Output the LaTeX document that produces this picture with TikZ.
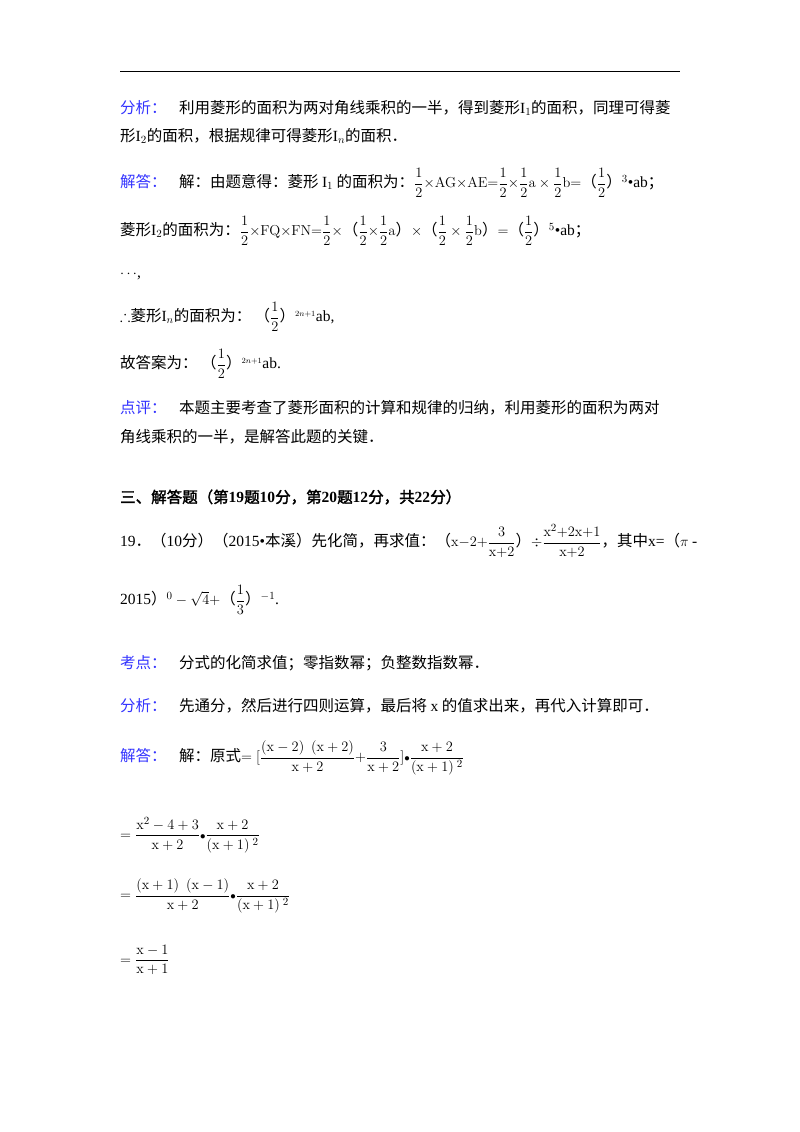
\documentclass[tikz,border=0pt]{standalone}
\usepackage{amssymb}
\usepackage[no-math]{fontspec}
\setmainfont{Noto Sans CJK SC}[AutoFakeBold=2]
\newfontfamily\lat{Liberation Serif}
\definecolor{lab}{RGB}{51,51,255}
\newcommand\bl[1]{\textcolor{lab}{#1}}
\newcommand\lt[1]{{\lat #1}}
\newcommand\hf{\displaystyle\frac{1}{2}}
\newcommand\xx{\mathrm{x}}
\newcommand\df[2]{\displaystyle\frac{#1}{#2}}
\newcommand\bu{{\scriptstyle\bullet}}
\begin{document}
\begin{tikzpicture}[x=1pt,y=-1pt,every node/.style={anchor=west,inner sep=0pt,font=\fontsize{15.5}{18}\selectfont}]
\useasboundingbox[fill=white] (0,0) rectangle (800,1132);
\draw[line width=1pt] (120,72) coordinate (r1) -- (680,72) coordinate (r2);
\node (l1) at (120,108) {\bl{分析：}\hspace{0.8em}利用菱形的面积为两对角线乘积的一半，得到菱形\lt{I}$_1$的面积，同理可得菱};
\node (l2) at (120,136) {形\lt{I}$_2$的面积，根据规律可得菱形\lt{I}$_n$的面积．};
\node (l3) at (120,183) {\bl{解答：}\hspace{0.8em}解：由题意得：菱形 \lt{I}$_1$ 的面积为：$\hf{\times}\mathrm{AG}{\times}\mathrm{AE}{=}\hf{\times}\hf \mathrm{a}\times\hf \mathrm{b}{=}$（$\hf$）$^3$\lt{•ab}；};
\node (l4) at (120,231) {菱形\lt{I}$_2$的面积为：$\hf{\times}\mathrm{FQ}{\times}\mathrm{FN}{=}\hf{\times}$（$\hf{\times}\hf \mathrm{a}$）$\times$（$\hf\times\hf \mathrm{b}$）$=$（$\hf$）$^5$\lt{•ab}；};
\node (l5) at (120,275) {$\cdots$\lt{,}};
\node (l6) at (120,317) {$\therefore$菱形\lt{I}$_n$的面积为：\ （$\hf$）$^{\scriptscriptstyle 2n+1}$\lt{ab,}};
\node (l7) at (120,364) {故答案为：\ （$\hf$）$^{\scriptscriptstyle 2n+1}$\lt{ab.}};
\node (l8) at (120,408) {\bl{点评：}\hspace{0.8em}本题主要考查了菱形面积的计算和规律的归纳，利用菱形的面积为两对};
\node (l9) at (120,437) {角线乘积的一半，是解答此题的关键．};
\node (l10) at (120,497) {\textbf{三、解答题（第\lt{19}题\lt{10}分，第\lt{20}题\lt{12}分，共\lt{22}分）}};
\node (l11) at (120,541) {\lt{19}．（\lt{10}分）（\lt{2015•}本溪）先化简，再求值：（$\xx{-}2{+}\df{3}{\xx{+}2}$）$\div\df{\xx^2{+}2\xx{+}1}{\xx{+}2}$，其中\lt{x=}（$\pi$ \lt{-}};
\node (l12) at (120,600) {\lt{2015}）$^0-\sqrt{4}+$（$\displaystyle\frac13$）$^{-1}$\lt{.}};
\node (l13) at (120,663) {\bl{考点：}\hspace{0.8em}分式的化简求值；零指数幂；负整数指数幂．};
\node (l14) at (120,706) {\bl{分析：}\hspace{0.8em}先通分，然后进行四则运算，最后将 \lt{x} 的值求出来，再代入计算即可．};
\node (l15) at (120,758) {\bl{解答：}\hspace{0.8em}解：原式$=\Bigl[\df{(\xx-2)\ \ (\xx+2)}{\xx+2}{+}\df{3}{\xx+2}\Bigr]{\bu}\df{\xx+2}{(\xx+1)^{\;2}}$};
\node (l16) at (120,835) {$=\df{\xx^2-4+3}{\xx+2}{\bu}\df{\xx+2}{(\xx+1)^{\;2}}$};
\node (l17) at (120,896) {$=\df{(\xx+1)\ \ (\xx-1)}{\xx+2}{\bu}\df{\xx+2}{(\xx+1)^{\;2}}$};
\node (l18) at (120,960) {$=\df{\xx-1}{\xx+1}$};
\end{tikzpicture}
\end{document}
